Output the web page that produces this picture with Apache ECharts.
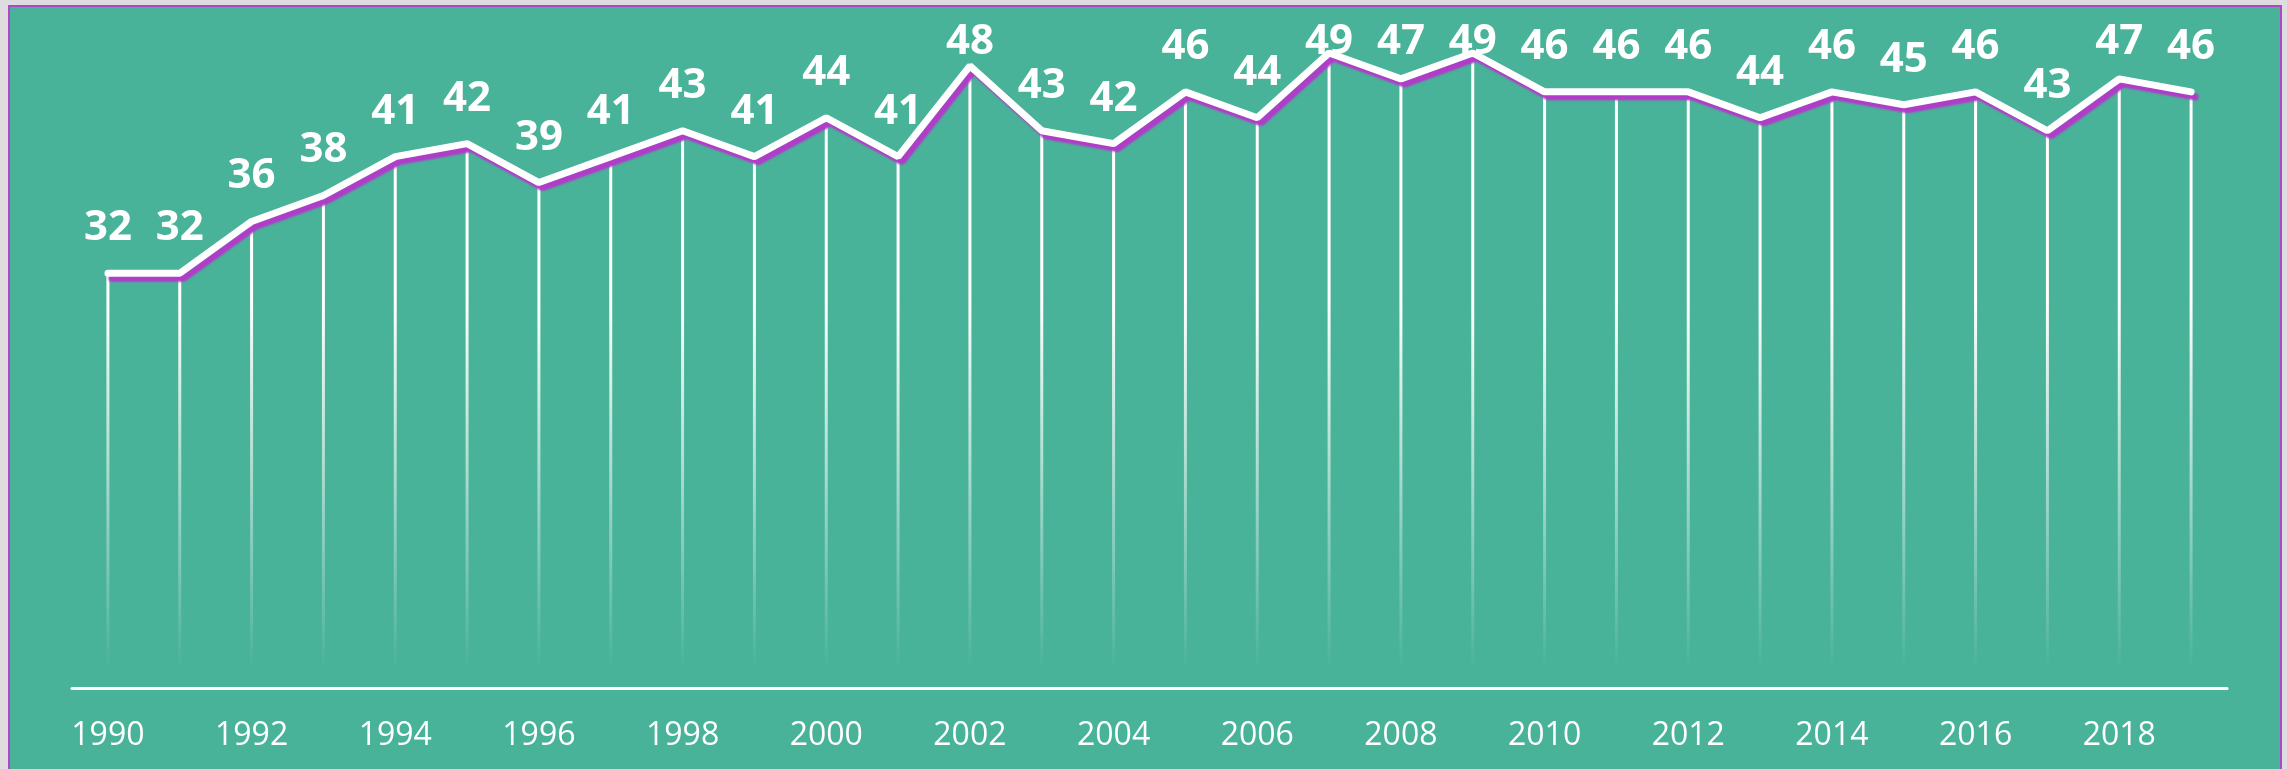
<!DOCTYPE html>
<html>
<head>
<meta charset="utf-8">
<script src="https://cdn.jsdelivr.net/npm/echarts@6/dist/echarts.min.js"></script>
<style>
  html, body { margin: 0; padding: 0; width: 2287px; height: 769px; overflow: hidden; background: #dedcde; }
  #card { position: absolute; left: 8px; top: 5px; width: 2270px; height: 800px; border: 2px solid #b046c8; background: #48b399; }
  #chart { position: absolute; left: 0; top: 0; width: 2287px; height: 769px; }
</style>
</head>
<body>
<div id="card"></div>
<div id="chart"></div>
<script>
const years = ['1990','1991','1992','1993','1994','1995','1996','1997','1998','1999',
               '2000','2001','2002','2003','2004','2005','2006','2007','2008','2009',
               '2010','2011','2012','2013','2014','2015','2016','2017','2018','2019'];
const values = [32, 32, 36, 38, 41, 42, 39, 41, 43, 41,
                44, 41, 48, 43, 42, 46, 44, 49, 47, 49,
                46, 46, 46, 44, 46, 45, 46, 43, 47, 46];

const LABEL_MIN_CENTER = 42; // labels are kept inside the chart area, like the original

const chart = echarts.init(document.getElementById('chart'), null, { renderer: 'canvas' });
chart.setOption({
  backgroundColor: 'transparent',
  animation: false,
  grid: { left: 72, right: 60, top: 40, bottom: 81, containLabel: false },
  xAxis: {
    type: 'category',
    data: years,
    boundaryGap: true,
    axisLine: { show: true, lineStyle: { color: '#ffffff', width: 3 } },
    axisTick: { show: false },
    axisLabel: { interval: 1, color: '#ffffff', fontFamily: 'Open Sans', fontSize: 32, margin: 32 },
    splitLine: { show: false }
  },
  yAxis: {
    type: 'value', min: 0, max: 50, show: false,
    splitLine: { show: false }
  },
  series: [
    {
      type: 'bar',
      data: values,
      barWidth: 3,
      z: 1,
      itemStyle: {
        color: {
          type: 'linear', x: 0, y: 300, x2: 0, y2: 672, global: true,
          colorStops: [
            { offset: 0, color: 'rgba(255,255,255,1)' },
            { offset: 1, color: 'rgba(255,255,255,0)' }
          ]
        }
      },
      label: {
        show: true, position: 'top', distance: 24,
        color: '#ffffff', fontFamily: 'Open Sans', fontWeight: 'bold', fontSize: 42
      },
      labelLayout: function (p) {
        const c = p.labelRect.y + p.labelRect.height / 2;
        return { dy: Math.max(0, LABEL_MIN_CENTER - c) };
      }
    },
    {
      type: 'line',
      data: values,
      z: 3,
      symbol: 'none',
      lineStyle: {
        color: '#ffffff', width: 7, cap: 'round',
        shadowColor: '#b03cc8', shadowBlur: 2, shadowOffsetX: 4, shadowOffsetY: 5
      }
    }
  ]
});
</script>
</body>
</html>
